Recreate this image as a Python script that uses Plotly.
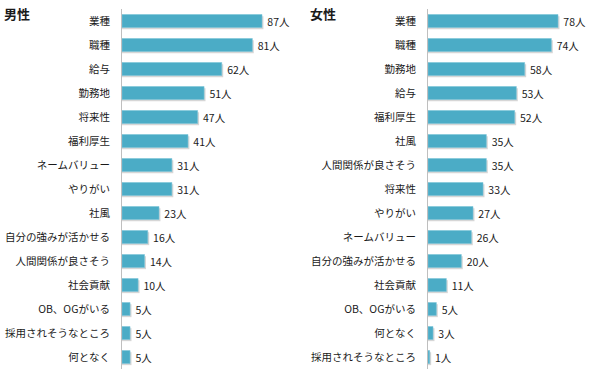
import plotly.graph_objects as go

male_labels = ["業種", "職種", "給与", "勤務地", "将来性", "福利厚生", "ネームバリュー", "やりがい",
               "社風", "自分の強みが活かせる", "人間関係が良さそう", "社会貢献", "OB、OGがいる",
               "採用されそうなところ", "何となく"]
male_values = [87, 81, 62, 51, 47, 41, 31, 31, 23, 16, 14, 10, 5, 5, 5]

female_labels = ["業種", "職種", "勤務地", "給与", "福利厚生", "社風", "人間関係が良さそう", "将来性",
                 "やりがい", "ネームバリュー", "自分の強みが活かせる", "社会貢献", "OB、OGがいる",
                 "何となく", "採用されそうなところ"]
female_values = [78, 74, 58, 53, 52, 35, 35, 33, 27, 26, 20, 11, 5, 3, 1]

FONT = "Noto Sans CJK JP, Meiryo, sans-serif"
BAR = "#4BACC6"
SHADOW = "rgba(0,0,0,0.16)"
W, H = 600, 376

fig = go.Figure()

def add_panel(labels, values, xa, ya):
    # soft shadow
    fig.add_trace(go.Bar(
        y=labels, x=[v + 0.9 for v in values], orientation="h",
        marker=dict(color=SHADOW, line=dict(width=0)),
        width=0.54, offset=-0.27 + 0.07, hoverinfo="skip",
        xaxis=xa, yaxis=ya, showlegend=False))
    fig.add_trace(go.Bar(
        y=labels, x=values, orientation="h",
        marker=dict(color=BAR, line=dict(color="#7CC5D8", width=0.6)),
        width=0.54, offset=-0.27,
        text=[f" {v}人" for v in values], textposition="outside",
        constraintext="none",
        textfont=dict(family=FONT, size=10.5, color="#1a1a1a"),
        cliponaxis=False, xaxis=xa, yaxis=ya, showlegend=False))

add_panel(male_labels, male_values, "x", "y")
add_panel(female_labels, female_values, "x2", "y2")

ydom = [(H - 369) / H, (H - 9) / H]
axis_common = dict(showgrid=False, zeroline=False, showticklabels=False, ticks="",
                   showline=False, automargin=False)
yax_common = dict(domain=ydom, categoryorder="array", autorange="reversed",
                  showgrid=False, zeroline=False, ticks="", automargin=False,
                  showline=True, linecolor="#BFBFBF", linewidth=1,
                  tickfont=dict(family=FONT, size=10.5, color="#1a1a1a"), ticklabelstandoff=9)

fig.update_layout(
    width=W, height=H,
    margin=dict(l=0, r=0, t=0, b=0, autoexpand=False),
    paper_bgcolor="white", plot_bgcolor="white",
    barmode="overlay",
    font=dict(family=FONT, size=11, color="#1a1a1a"),
    xaxis=dict(domain=[122 / W, 290 / W], range=[0, 104.4], **axis_common),
    xaxis2=dict(domain=[428 / W, 590 / W], range=[0, 97.2], **axis_common),
    yaxis=dict(anchor="x", categoryarray=male_labels, **yax_common),
    yaxis2=dict(anchor="x2", categoryarray=female_labels, **yax_common),
    annotations=[
        dict(text="<b>男性</b>", x=2 / W, y=1 - 2 / H, xref="paper", yref="paper",
             xanchor="left", yanchor="top", showarrow=False,
             font=dict(family=FONT, size=13, color="#1a1a1a")),
        dict(text="<b>女性</b>", x=308 / W, y=1 - 2 / H, xref="paper", yref="paper",
             xanchor="left", yanchor="top", showarrow=False,
             font=dict(family=FONT, size=13, color="#1a1a1a")),
    ],
)

fig.write_html("out.html", config={"displayModeBar": False},
               post_script="document.body.style.margin='0';document.body.style.overflow='hidden';")
